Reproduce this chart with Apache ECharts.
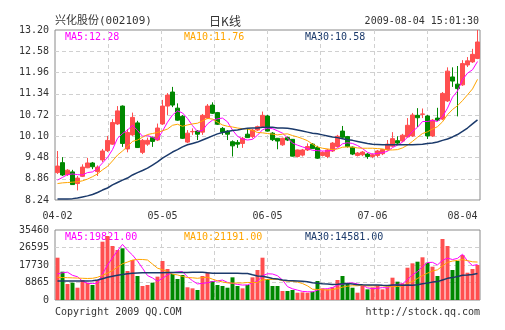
<!DOCTYPE html>
<html><head><meta charset="utf-8">
<script src="https://cdn.jsdelivr.net/npm/echarts@6/dist/echarts.min.js"></script>
<style>html,body{margin:0;padding:0;background:#fff}#c{width:505px;height:330px}</style>
</head><body><div id="c"></div>
<script>
// ---- data ----
const categories = [
 '04-02','04-03','04-07','04-08','04-09','04-10','04-13','04-14','04-15','04-16','04-17','04-20','04-21','04-22','04-23','04-24','04-27','04-28','04-29','04-30',
 '05-04','05-05','05-06','05-07','05-08','05-11','05-12','05-13','05-14','05-15','05-18','05-19','05-20','05-21','05-22','05-25','05-26','05-27',
 '06-01','06-02','06-03','06-04','06-05','06-08','06-09','06-10','06-11','06-12','06-15','06-16','06-17','06-18','06-19','06-22','06-23','06-24','06-25','06-26','06-29','06-30',
 '07-01','07-02','07-03','07-06','07-07','07-08','07-09','07-10','07-13','07-14','07-15','07-16','07-17','07-20','07-21','07-22','07-23','07-24','07-27','07-28','07-29','07-30','07-31',
 '08-03','08-04'];
const tickLabels = ['04-02','05-05','06-05','07-06','08-04'];
const priceTicks = [8.24, 8.86, 9.48, 10.10, 10.72, 11.34, 11.96, 12.58, 13.20];
const volumeTicks = [0, 8865, 17730, 26595, 35460];

const openP = [9.04,9.33,8.98,9.06,8.72,8.93,9.18,9.32,9.07,9.41,
 9.68,9.87,10.46,10.98,9.73,10.14,10.49,9.63,9.87,10.06,
 9.99,10.46,10.98,11.39,10.92,10.68,9.93,10.23,10.25,10.22,
 10.63,11.01,10.79,10.33,10.25,9.94,9.92,9.89,10.16,10.09,
 10.28,10.38,10.69,10.19,10.04,9.85,10.06,10.01,9.51,9.55,
 9.70,9.87,9.77,9.54,9.51,9.67,9.80,10.25,10.09,9.78,
 9.54,9.56,9.58,9.51,9.54,9.59,9.71,9.81,9.97,9.96,
 10.08,10.11,10.71,10.74,10.69,10.11,10.63,10.60,11.13,11.83,
 11.62,11.60,12.18,12.27,12.37];
const closeP = [9.23,8.97,9.11,8.69,8.88,9.20,9.32,9.21,9.20,9.67,
 9.98,10.50,10.84,9.89,10.21,10.65,9.77,9.98,9.98,9.95,
 10.34,10.98,11.30,11.01,10.57,10.04,10.19,10.24,10.16,10.71,
 10.98,10.77,10.45,10.22,10.16,9.82,9.87,10.04,10.06,10.28,
 10.38,10.71,10.25,10.00,9.96,10.04,9.99,9.52,9.70,9.70,
 9.80,9.74,9.46,9.63,9.70,9.90,10.10,10.07,9.80,9.58,
 9.61,9.64,9.51,9.56,9.67,9.71,9.87,10.03,9.90,10.13,
 10.42,10.72,10.64,10.75,10.11,10.57,10.57,11.35,12.00,11.71,
 11.49,12.22,12.30,12.49,12.85];
const lowP = [9.00,8.94,8.94,8.68,8.52,8.91,9.17,9.14,8.94,9.35,
 9.64,9.85,10.43,9.79,9.63,10.11,9.76,9.58,9.82,9.79,
 9.96,10.43,10.72,10.95,10.55,10.02,9.90,10.14,9.99,10.14,
 10.60,10.75,10.43,10.14,9.99,9.51,9.76,9.76,10.05,10.04,
 10.25,10.37,10.24,9.96,9.72,9.82,9.96,9.51,9.48,9.51,
 9.67,9.73,9.44,9.51,9.46,9.64,9.77,10.05,9.77,9.55,
 9.51,9.52,9.44,9.46,9.49,9.55,9.68,9.79,9.85,9.93,
 10.06,10.08,10.37,10.63,10.02,10.08,10.55,10.57,11.10,11.54,
 10.68,11.57,12.12,12.24,12.35];
const highP = [9.67,9.49,9.14,9.12,8.94,9.28,9.47,9.35,9.25,9.73,
 10.11,10.60,10.98,11.00,10.31,10.79,10.55,10.02,10.06,10.09,
 10.47,11.16,11.36,11.54,11.06,10.72,10.28,10.33,10.28,10.75,
 11.04,11.09,10.81,10.37,10.28,9.98,9.99,10.08,10.34,10.31,
 10.41,10.82,10.72,10.22,10.05,10.06,10.09,10.02,9.71,9.73,
 9.89,9.90,9.82,9.66,9.73,9.93,10.14,10.40,10.11,9.80,
 9.64,9.67,9.61,9.60,9.70,9.73,9.99,10.22,10.10,10.17,
 10.63,10.78,10.92,10.91,10.72,10.60,10.93,11.39,12.11,12.11,
 12.15,12.32,12.41,12.65,13.20];
const ma5 = [8.82,8.90,8.98,9.00,8.98,8.97,9.04,9.06,9.16,9.32,
 9.48,9.71,10.04,10.18,10.28,10.42,10.27,10.10,10.12,10.07,
 10.00,10.25,10.51,10.72,10.84,10.78,10.62,10.41,10.24,10.27,
 10.46,10.57,10.61,10.63,10.52,10.28,10.10,10.02,9.99,10.01,
 10.13,10.29,10.34,10.32,10.26,10.19,10.05,9.90,9.84,9.79,
 9.74,9.69,9.68,9.67,9.67,9.69,9.76,9.88,9.91,9.89,
 9.83,9.74,9.63,9.58,9.60,9.62,9.66,9.77,9.84,9.93,
 10.07,10.24,10.36,10.53,10.53,10.56,10.53,10.67,10.92,11.24,
 11.42,11.75,11.94,12.04,12.28];
const ma10 = [8.72,8.74,8.75,8.76,8.77,8.80,8.85,8.92,9.00,9.12,
 9.22,9.38,9.55,9.67,9.80,9.95,9.99,10.07,10.15,10.18,
 10.21,10.26,10.31,10.42,10.45,10.39,10.43,10.46,10.48,10.55,
 10.62,10.60,10.51,10.43,10.39,10.37,10.34,10.32,10.31,10.27,
 10.21,10.20,10.18,10.16,10.14,10.16,10.17,10.12,10.08,10.03,
 9.97,9.87,9.79,9.75,9.73,9.71,9.73,9.78,9.79,9.78,
 9.76,9.75,9.75,9.75,9.74,9.73,9.70,9.70,9.71,9.76,
 9.84,9.95,10.07,10.18,10.23,10.31,10.38,10.52,10.73,10.88,
 10.99,11.14,11.31,11.48,11.76];
const ma30 = [8.27,8.27,8.27,8.28,8.30,8.33,8.36,8.40,8.46,8.53,
 8.59,8.68,8.75,8.82,8.88,8.97,9.04,9.10,9.17,9.26,
 9.35,9.46,9.55,9.64,9.71,9.79,9.85,9.89,9.93,9.99,
 10.05,10.11,10.17,10.21,10.24,10.27,10.28,10.31,10.33,10.34,
 10.34,10.36,10.36,10.36,10.34,10.34,10.33,10.31,10.28,10.25,
 10.22,10.19,10.17,10.14,10.11,10.08,10.06,10.03,10.00,9.98,
 9.95,9.92,9.89,9.87,9.86,9.85,9.85,9.85,9.85,9.85,
 9.85,9.85,9.86,9.87,9.89,9.90,9.93,9.98,10.02,10.08,
 10.15,10.24,10.34,10.46,10.58];
const volume = [21430,14340,8110,8780,6230,10130,8780,7600,10130,29540,
 32420,27360,25330,26190,14690,20260,12160,7090,7600,8780,
 11820,19760,15700,13170,10640,12670,6430,5910,5070,12160,
 14020,9630,7600,7090,6230,11480,7090,5910,7600,11480,
 15200,21430,10640,7090,7090,4560,4560,5070,3700,3870,
 3700,4220,9630,5910,5400,6430,10130,12160,8440,6230,
 3700,7090,5400,6430,7090,5400,6430,11300,9290,8440,
 16360,18580,19400,21630,18900,16870,12160,30900,27360,15200,
 19760,22800,13830,15700,17730];
const volMa5 = [13200,13800,14100,12500,11778,9518,8406,8304,8574,13236,
 17694,21410,24956,28168,25198,22766,19726,16078,12360,11178,
 9490,11010,12732,13846,14218,14388,11722,9764,8144,8448,
 8718,9358,9696,10100,8914,8406,7898,7560,7662,8712,
 9456,12324,13270,13168,12290,10162,6788,5674,4996,4352,
 4180,4112,5024,5466,5772,6318,7500,8006,8512,8678,
 8132,7524,6172,5770,5942,6282,6150,7330,7902,8172,
 10364,12794,14414,16882,18974,19076,17792,20092,21238,20498,
 21076,23204,19790,17458,17964];
const volMa10 = [11500,11400,11300,11200,11100,11000,10900,11000,11500,12507,
 13606,14908,16630,18371,19217,20230,20568,20517,20264,18188,
 16128,15368,14405,13103,12698,11939,11366,11248,10995,11333,
 11553,10540,9730,9122,8681,8562,8628,8628,8881,8813,
 8931,10111,10415,10415,10501,9809,9556,9472,9082,8321,
 7171,5450,5349,5231,5062,5249,5806,6515,6989,7225,
 7225,7512,7089,7141,7310,7207,6837,6751,6836,7057,
 8323,9472,10872,12392,13573,14720,15293,17253,19060,19736,
 20076,20498,19941,19348,19231];
const volMa30 = [9600,9600,9600,9600,9600,9600,9600,9700,10100,10800,
 11500,12000,12500,12900,13300,13600,13700,13800,13800,13800,
 13800,13800,13900,13900,13900,13900,13900,14000,14000,14009,
 13762,13605,13588,13532,13532,13577,13521,13464,13380,12778,
 12204,12006,11517,10880,10627,10103,9850,9783,9653,9489,
 9218,8700,8498,8256,8081,7873,7997,8205,8317,8120,
 7776,7691,7618,7596,7624,7422,7400,7579,7636,7534,
 7573,7478,7770,8255,8648,9059,9312,10173,10962,11339,
 11875,12494,12634,12960,13371];

const headerTexts = ['兴化股份(002109)', '日K线', '2009-08-04 15:01:30'];
const priceLegend = ['MA5:12.28', 'MA10:11.76', 'MA30:10.58'];
const volumeLegend = ['MA5:19821.00', 'MA10:21191.00', 'MA30:14581.00'];
const footerTexts = ['Copyright 2009 QQ.COM', 'http://stock.qq.com'];

// ---- styles ----
const mono = "'DejaVu Sans Mono','Liberation Mono',monospace";
const UP = '#ff4f4f', DOWN = '#008800';
const C5 = '#ff00ff', C10 = '#ffa500', C30 = '#1b3a6b';
const TXT = '#333';
const GRIDLINE = {color:'#d0d0d0', type:[4,3], width:1};

const candleData = categories.map((_, i) => [openP[i], closeP[i], lowP[i], highP[i]]);
const volData = volume.map((v, i) => ({value: v, itemStyle: {color: closeP[i] >= openP[i] ? UP : DOWN}}));
const pMin = priceTicks[0], pMax = priceTicks[priceTicks.length - 1];
const pStep = +(priceTicks[1] - priceTicks[0]).toFixed(2);
const vMax = volumeTicks[volumeTicks.length - 1], vStep = volumeTicks[1] - volumeTicks[0];

function txt(text, x, y, align, color, font) {
  return {type:'text', x:x, y:y, silent:true,
    style:{text:text, fill:color, font:font || ('10px ' + mono),
      align:align, verticalAlign:'middle', textAlign:align, textVerticalAlign:'middle'}};
}
const vGridAxis = (g) => ({type:'value', gridIndex:g, min:0, max:8, interval:1,
  axisLine:{show:false}, axisTick:{show:false}, axisLabel:{show:false},
  splitLine:{show:true, showMinLine:false, showMaxLine:false, lineStyle:GRIDLINE}});
const lineS = (name, data, color, xi, yi, w) => ({name:name, type:'line', data:data,
  xAxisIndex:xi, yAxisIndex:yi, symbol:'none', smooth:false, silent:true,
  lineStyle:{color:color, width:w}, itemStyle:{color:color}});

const chart = echarts.init(document.getElementById('c'), null, {renderer:'canvas', width:505, height:330});
chart.setOption({
  animation:false,
  backgroundColor:'#ffffff',
  grid:[
    {left:55, top:30, width:425, height:170, show:true, borderColor:'#8a8a8a', borderWidth:1, backgroundColor:'rgba(0,0,0,0)'},
    {left:55, top:230, width:425, height:70, show:true, borderColor:'#8a8a8a', borderWidth:1, backgroundColor:'rgba(0,0,0,0)'}
  ],
  xAxis:[
    {type:'category', gridIndex:0, data:categories, boundaryGap:true,
      axisLine:{show:false}, axisTick:{show:false}, splitLine:{show:false},
      axisLabel:{interval:(idx, val) => tickLabels.includes(val), margin:11,
        fontSize:10, fontFamily:mono, color:TXT, alignMaxLabel:'right', showMaxLabel:true, showMinLabel:true}},
    {type:'category', gridIndex:1, data:categories, boundaryGap:true,
      axisLine:{show:false}, axisTick:{show:false}, axisLabel:{show:false}, splitLine:{show:false}},
    vGridAxis(0), vGridAxis(1)
  ],
  yAxis:[
    {type:'value', gridIndex:0, min:pMin, max:pMax, interval:pStep, scale:true,
      axisLine:{show:false}, axisTick:{show:false},
      axisLabel:{formatter:v => (+v).toFixed(2), fontSize:10, fontFamily:mono, color:TXT, margin:6},
      splitLine:{show:true, showMinLine:false, showMaxLine:false, lineStyle:GRIDLINE}},
    {type:'value', gridIndex:1, min:0, max:vMax, interval:vStep,
      axisLine:{show:false}, axisTick:{show:false},
      axisLabel:{formatter:v => String(Math.round(v)), fontSize:10, fontFamily:mono, color:TXT, margin:6},
      splitLine:{show:true, showMinLine:false, showMaxLine:false, lineStyle:GRIDLINE}}
  ],
  series:[
    {name:'K', type:'candlestick', data:candleData, xAxisIndex:0, yAxisIndex:0, barWidth:3.6, silent:true,
      itemStyle:{color:UP, color0:DOWN, borderColor:UP, borderColor0:DOWN, borderWidth:1}},
    lineS('MA5', ma5, C5, 0, 0, 1),
    lineS('MA10', ma10, C10, 0, 0, 1),
    lineS('MA30', ma30, C30, 0, 0, 1.5),
    {name:'VOL', type:'bar', data:volData, xAxisIndex:1, yAxisIndex:1, barWidth:4, silent:true},
    lineS('VMA5', volMa5, C5, 1, 1, 1),
    lineS('VMA10', volMa10, C10, 1, 1, 1),
    lineS('VMA30', volMa30, C30, 1, 1, 1.5)
  ],
  graphic:[
    txt(headerTexts[0], 55, 21, 'left', TXT, "11px 'DejaVu Sans Mono','Noto Sans CJK SC',sans-serif"),
    txt(headerTexts[1], 225, 21, 'center', TXT, "12px 'Noto Sans CJK SC',sans-serif"),
    txt(headerTexts[2], 479, 21, 'right', TXT),
    txt(priceLegend[0], 65, 37, 'left', C5),
    txt(priceLegend[1], 184, 37, 'left', C10),
    txt(priceLegend[2], 305, 37, 'left', C30),
    txt(volumeLegend[0], 65, 237, 'left', C5),
    txt(volumeLegend[1], 184, 237, 'left', C10),
    txt(volumeLegend[2], 305, 237, 'left', C30),
    txt(footerTexts[0], 55, 312, 'left', TXT),
    txt(footerTexts[1], 480, 312, 'right', TXT)
  ]
});
</script></body></html>
